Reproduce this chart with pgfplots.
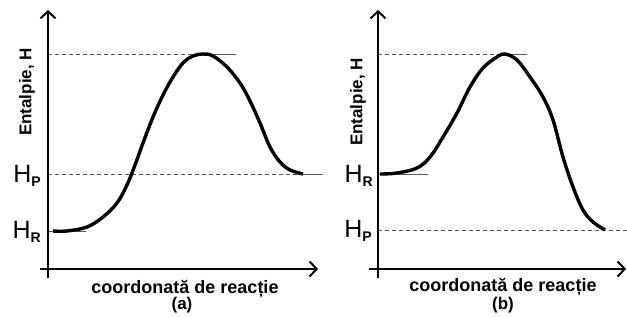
\documentclass[border=0pt]{standalone}
\usepackage{fontspec}
\setmainfont{Liberation Sans}
\usepackage{pgfplots}
\pgfplotsset{compat=1.18}
\usetikzlibrary{arrows.meta}
\begin{document}
\begin{tikzpicture}
\begin{axis}[
  width=627pt, height=317pt, scale only axis,
  xmin=0, xmax=627, ymin=0, ymax=317,
  hide axis, clip=false,
  axisline/.style={line width=2.4pt, black},
  arr/.style={-{Straight Barb[length=7pt,width=15pt,line width=2pt]}},
  lvl/.style={gray!70!black, line width=0.9pt, dash pattern=on 4pt off 3pt},
  lvlsolid/.style={gray!70!black, line width=0.9pt},
  curve/.style={black, line width=3.4pt, smooth, tension=0.6},
]
\coordinate (ll) at (axis cs:0,0);
\coordinate (ur) at (axis cs:627,317);

% ---------- panel (a) ----------
\addplot[lvl] coordinates {(48,263) (200,263)};
\addplot[lvlsolid] coordinates {(200,263) (236,263)};
\addplot[lvl] coordinates {(48,143) (300,143)};
\addplot[lvlsolid] coordinates {(300,143) (323,143)};
\addplot[lvlsolid] coordinates {(48,86) (86,86)};
\addplot[axisline, arr] coordinates {(48,39) (48,307)};
\addplot[axisline, arr] coordinates {(40,48) (318,48)};
\addplot[curve] coordinates {
(53,86) (67,86) (87,90) (103,100) (117,114) (127,132) (135,152) (143,174)
(153,200) (163,222) (173,240) (183,254) (193,261) (203,263) (213,261)
(227,250) (240,234) (250,216) (260,194) (270,170) (280,155) (290,147) (303,143)};

\node[inner sep=0, anchor=base east] at (axis cs:41,135)
  {\fontsize{25}{25}\selectfont H\raisebox{-4pt}{\fontsize{14}{14}\selectfont\bfseries P}};
\node[inner sep=0, anchor=base east] at (axis cs:41,79)
  {\fontsize{25}{25}\selectfont H\raisebox{-4pt}{\fontsize{14}{14}\selectfont\bfseries R}};
\node[inner sep=0, rotate=90] at (axis cs:27,225)
  {\fontsize{17}{17}\selectfont\bfseries Entalpie, H};
\node[inner sep=0, anchor=base] at (axis cs:185,24)
  {\fontsize{18}{18}\selectfont\bfseries coordonată de reacție};
\node[inner sep=0, anchor=base] at (axis cs:182,8)
  {\fontsize{17}{17}\selectfont\bfseries (a)};

% ---------- panel (b) ----------
\addplot[lvl] coordinates {(378,263) (500,263)};
\addplot[lvlsolid] coordinates {(500,263) (527,263)};
\addplot[lvlsolid] coordinates {(378,143) (428,143)};
\addplot[lvl] coordinates {(378,87) (627,87)};
\addplot[axisline, arr] coordinates {(378,39) (378,307)};
\addplot[axisline, arr] coordinates {(369,48) (626,48)};
\addplot[curve] coordinates {
(380,143) (397,144) (417,149) (430,160) (443,180) (457,204) (470,230)
(483,249) (497,260) (505,263) (517,257) (530,240) (543,220) (553,197)
(563,160) (573,130) (583,107) (593,95) (605,87)};

\node[inner sep=0, anchor=base east] at (axis cs:373,135)
  {\fontsize{25}{25}\selectfont H\raisebox{-4pt}{\fontsize{14}{14}\selectfont\bfseries R}};
\node[inner sep=0, anchor=base east] at (axis cs:372,80)
  {\fontsize{25}{25}\selectfont H\raisebox{-4pt}{\fontsize{14}{14}\selectfont\bfseries P}};
\node[inner sep=0, rotate=90] at (axis cs:358,215)
  {\fontsize{17}{17}\selectfont\bfseries Entalpie, H};
\node[inner sep=0, anchor=base] at (axis cs:503,26)
  {\fontsize{18}{18}\selectfont\bfseries coordonată de reacție};
\node[inner sep=0, anchor=base] at (axis cs:503,8)
  {\fontsize{17}{17}\selectfont\bfseries (b)};
\end{axis}
\pgfresetboundingbox
\path (ll) rectangle (ur);
\end{tikzpicture}
\end{document}
